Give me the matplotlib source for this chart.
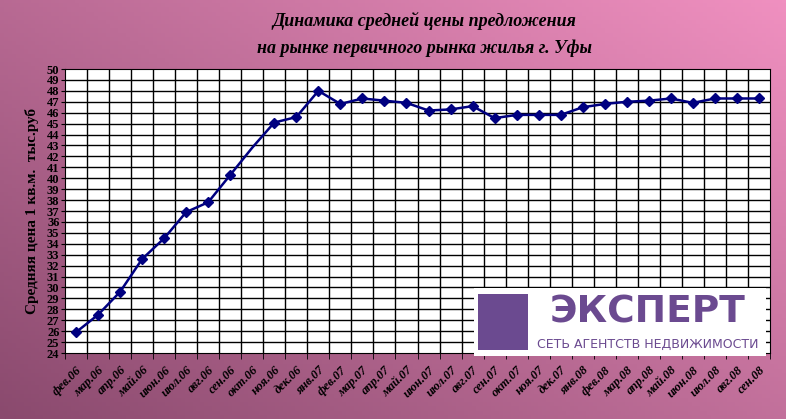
import numpy as np
import matplotlib
matplotlib.use("Agg")
import matplotlib.pyplot as plt
from matplotlib.patches import Rectangle

months = ["фев.06","мар.06","апр.06","май.06","июн.06","июл.06","авг.06","сен.06","окт.06","ноя.06","дек.06",
          "янв.07","фев.07","мар.07","апр.07","май.07","июн.07","июл.07","авг.07","сен.07","окт.07","ноя.07","дек.07",
          "янв.08","фев.08","мар.08","апр.08","май.08","июн.08","июл.08","авг.08","сен.08"]
prices = [25.9,27.5,29.6,32.6,34.5,36.9,37.8,40.3,42.8,45.1,45.6,
          48.0,46.8,47.3,47.1,46.9,46.2,46.3,46.6,45.5,45.8,45.8,45.8,
          46.5,46.8,47.0,47.1,47.3,46.9,47.3,47.3,47.3]

fig = plt.figure(figsize=(7.86,4.19), dpi=100)
bg = fig.add_axes([0,0,1,1], zorder=-10)
gx, gy = np.meshgrid(np.linspace(0,1,200), np.linspace(0,1,100))
t = np.clip(0.55*gx + 0.45*gy, 0, 1)
c0 = np.array([0x8a,0x4a,0x6e])/255; c1 = np.array([0xf0,0x90,0xc0])/255
img = c0[None,None,:]*(1-t[...,None]) + c1[None,None,:]*t[...,None]
bg.imshow(img, origin="lower", aspect="auto", extent=[0,1,0,1])
bg.axis("off")

ax = fig.add_axes([65/786, 1-353/419, 705/786, 284/419])
n = len(months)
x = np.arange(n)
ax.set_xlim(-0.5, n-0.5)
ax.set_ylim(24, 50)
ax.set_facecolor("white")
ax.set_yticks(range(24,51))
ax.set_yticklabels([str(v) for v in range(24,51)], fontsize=9, family="Liberation Serif", fontweight="bold")
ax.set_xticks(x)
ax.set_xticklabels(months, rotation=45, ha="right", rotation_mode="anchor", fontsize=9, family="Liberation Serif", fontweight="bold", fontstyle="italic")
ax.set_xticks(np.arange(n+1)-0.5, minor=True)
ax.tick_params(axis="x", which="major", length=0, pad=8)
ax.tick_params(axis="x", which="minor", length=4)
ax.tick_params(axis="y", length=3, pad=1)
ax.grid(False)
for v in range(25,50):
    ax.axhline(v, color="black", lw=1, zorder=1)
for k in range(1,n):
    ax.axvline(k-0.5, color="black", lw=1, zorder=1)
for s in ax.spines.values():
    s.set_color("black")
ax.plot(x, prices, color="#000080", lw=1.8, marker="D", ms=5,
        markevery=[i for i in range(n) if i != 8], zorder=3)
ax.set_ylabel("Средняя цена 1 кв.м.  тыс.руб", fontsize=11, family="Liberation Serif", fontweight="bold", labelpad=6)

fig.text(0.54, 0.95, "Динамика средней цены предложения", ha="center", va="center",
         fontsize=13, family="Liberation Serif", fontweight="bold", fontstyle="italic")
fig.text(0.54, 0.885, "на рынке первичного рынка жилья г. Уфы", ha="center", va="center",
         fontsize=13, family="Liberation Serif", fontweight="bold", fontstyle="italic")

# logo
fig.patches.append(Rectangle((474/786, 1-356/419), 292/786, 68/419, transform=fig.transFigure,
                             facecolor="white", edgecolor="none", zorder=5))
fig.patches.append(Rectangle((478/786, 1-350/419), 50/786, 56/419, transform=fig.transFigure,
                             facecolor="#6b4a90", edgecolor="none", zorder=6))
fig.text(648/786, 1-312/419, "ЭКСПЕРТ", ha="center", va="center", fontsize=27, fontweight="bold",
         color="#6b4a90", family="DejaVu Sans", zorder=7)
fig.text(648/786, 1-344/419, "СЕТЬ АГЕНТСТВ НЕДВИЖИМОСТИ", ha="center", va="center", fontsize=9,
         color="#6b4a90", family="DejaVu Sans", zorder=7)

fig.savefig("out.png", dpi=100)
